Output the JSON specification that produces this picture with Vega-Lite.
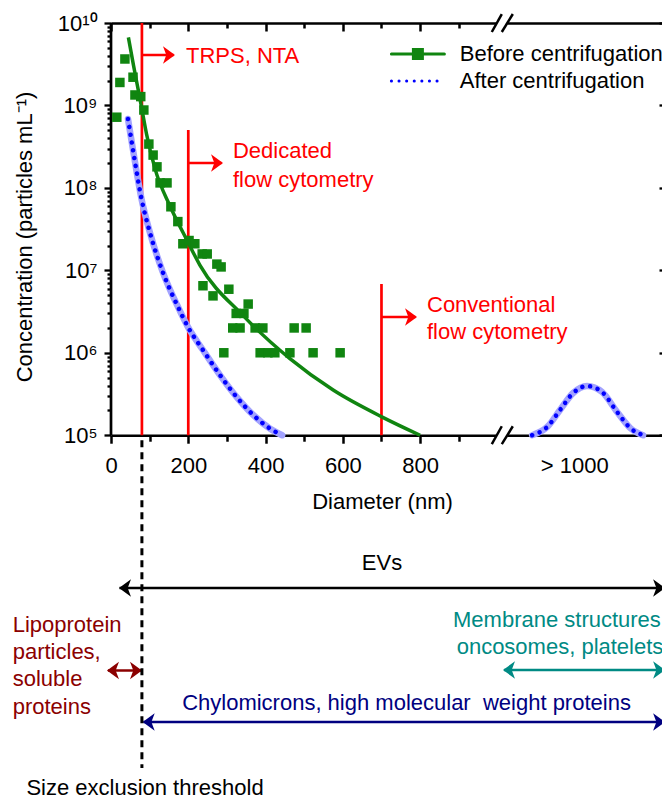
{
  "$schema": "https://vega.github.io/schema/vega-lite/v6.json",
  "width": 551,
  "height": 742,
  "autosize": {"type": "none"},
  "padding": {"left": 111, "top": 23, "right": 0, "bottom": 36},
  "background": "white",
  "config": {
    "view": {"stroke": null},
    "font": "Liberation Sans",
    "axis": {"grid": false, "domainColor": "black", "tickColor": "black", "labelColor": "black", "titleColor": "black", "labelFont": "Liberation Sans", "titleFont": "Liberation Sans"},
    "text": {"font": "Liberation Sans", "fontSize": 22}
  },
  "datasets": {
    "fit": [
      {"d": 45, "c": 6.7e9, "s": "Before centrifugation"},
      {"d": 58, "c": 3.1e9, "s": "Before centrifugation"},
      {"d": 71, "c": 1.5e9, "s": "Before centrifugation"},
      {"d": 80, "c": 9.0e8, "s": "Before centrifugation"},
      {"d": 92, "c": 4.5e8, "s": "Before centrifugation"},
      {"d": 114, "c": 1.7e8, "s": "Before centrifugation"},
      {"d": 153, "c": 6.0e7, "s": "Before centrifugation"},
      {"d": 197, "c": 2.3e7, "s": "Before centrifugation"},
      {"d": 230, "c": 1.16e7, "s": "Before centrifugation"},
      {"d": 342, "c": 2.82e6, "s": "Before centrifugation"},
      {"d": 463, "c": 8.5e5, "s": "Before centrifugation"},
      {"d": 575, "c": 3.53e5, "s": "Before centrifugation"},
      {"d": 702, "c": 1.66e5, "s": "Before centrifugation"},
      {"d": 800, "c": 1.0e5, "s": "Before centrifugation"}
    ],
    "after": [
      {"d": 44, "c": 6.85e8, "s": "After centrifugation", "seg": "m"},
      {"d": 57, "c": 2.88e8, "s": "After centrifugation", "seg": "m"},
      {"d": 78, "c": 7.74e7, "s": "After centrifugation", "seg": "m"},
      {"d": 101, "c": 2.84e7, "s": "After centrifugation", "seg": "m"},
      {"d": 135, "c": 9.27e6, "s": "After centrifugation", "seg": "m"},
      {"d": 171, "c": 3.8e6, "s": "After centrifugation", "seg": "m"},
      {"d": 199, "c": 2.06e6, "s": "After centrifugation", "seg": "m"},
      {"d": 238, "c": 1.08e6, "s": "After centrifugation", "seg": "m"},
      {"d": 282, "c": 5.37e5, "s": "After centrifugation", "seg": "m"},
      {"d": 326, "c": 2.88e5, "s": "After centrifugation", "seg": "m"},
      {"d": 368, "c": 1.76e5, "s": "After centrifugation", "seg": "m"},
      {"d": 412, "c": 1.2e5, "s": "After centrifugation", "seg": "m"},
      {"d": 443, "c": 1.0e5, "s": "After centrifugation", "seg": "m"},
      {"d": 1090, "c": 1.0e5, "s": "After centrifugation", "seg": "b"},
      {"d": 1129, "c": 1.26e5, "s": "After centrifugation", "seg": "b"},
      {"d": 1162, "c": 2.02e5, "s": "After centrifugation", "seg": "b"},
      {"d": 1196, "c": 3.25e5, "s": "After centrifugation", "seg": "b"},
      {"d": 1232, "c": 3.95e5, "s": "After centrifugation", "seg": "b"},
      {"d": 1271, "c": 3.34e5, "s": "After centrifugation", "seg": "b"},
      {"d": 1310, "c": 1.91e5, "s": "After centrifugation", "seg": "b"},
      {"d": 1344, "c": 1.22e5, "s": "After centrifugation", "seg": "b"},
      {"d": 1377, "c": 1.0e5, "s": "After centrifugation", "seg": "b"}
    ],
    "pts": [
      {"d": 15, "c": 7.2e8}, {"d": 23, "c": 1.9e9}, {"d": 36, "c": 3.66e9}, {"d": 57, "c": 2.2e9},
      {"d": 62, "c": 1.34e9}, {"d": 77, "c": 1.28e9}, {"d": 85, "c": 8.8e8}, {"d": 98, "c": 3.4e8},
      {"d": 109, "c": 2.5e8}, {"d": 119, "c": 1.8e8}, {"d": 127, "c": 1.15e8}, {"d": 145, "c": 1.15e8},
      {"d": 155, "c": 5.9e7}, {"d": 173, "c": 3.9e7}, {"d": 186, "c": 2.1e7}, {"d": 202, "c": 2.3e7},
      {"d": 217, "c": 2.1e7}, {"d": 236, "c": 1.58e7}, {"d": 249, "c": 1.58e7}, {"d": 274, "c": 1.19e7},
      {"d": 285, "c": 1.1e7}, {"d": 238, "c": 6.5e6}, {"d": 305, "c": 5.9e6}, {"d": 264, "c": 4.9e6},
      {"d": 355, "c": 3.9e6}, {"d": 324, "c": 3.0e6}, {"d": 344, "c": 3.0e6}, {"d": 315, "c": 2.0e6},
      {"d": 334, "c": 2.0e6}, {"d": 373, "c": 2.0e6}, {"d": 393, "c": 2.0e6}, {"d": 474, "c": 2.0e6},
      {"d": 505, "c": 2.0e6}, {"d": 292, "c": 1.0e6}, {"d": 386, "c": 1.0e6}, {"d": 406, "c": 1.0e6},
      {"d": 424, "c": 1.0e6}, {"d": 463, "c": 1.0e6}, {"d": 523, "c": 1.0e6}, {"d": 593, "c": 1.0e6}
    ],
    "vr": [
      {"d": 0, "lo": 1e5, "hi": 1e10, "g": "frame"},
      {"d": 80, "lo": 1e5, "hi": 1e10, "g": "method"},
      {"d": 200, "lo": 1e5, "hi": 5.04e8, "g": "method"},
      {"d": 700, "lo": 1e5, "hi": 6.83e6, "g": "method"}
    ],
    "hr": [
      {"a": 80, "b": 162, "c": 4.09e9, "g": "method"},
      {"a": 200, "b": 286, "c": 2.0e8, "g": "method"},
      {"a": 700, "b": 788, "c": 2.72e6, "g": "method"},
      {"a": 22, "b": 1430, "c": 1403, "g": "ev"},
      {"a": 1017, "b": 1430, "c": 142, "g": "mem"},
      {"a": -8, "b": 78, "c": 140, "g": "lipo"},
      {"a": 84, "b": 1430, "c": 33.2, "g": "chylo"}
    ],
    "heads": [
      {"d": 165.6, "c": 4.09e9, "dir": "right", "g": "method"},
      {"d": 289.9, "c": 2.0e8, "dir": "right", "g": "method"},
      {"d": 792, "c": 2.72e6, "dir": "right", "g": "method"},
      {"d": 20.7, "c": 1403, "dir": "left", "g": "ev"},
      {"d": 1434, "c": 1403, "dir": "right", "g": "ev"},
      {"d": 1014.5, "c": 142, "dir": "left", "g": "mem"},
      {"d": 1434, "c": 142, "dir": "right", "g": "mem"},
      {"d": -10.4, "c": 140, "dir": "left", "g": "lipo"},
      {"d": 80.2, "c": 140, "dir": "right", "g": "lipo"},
      {"d": 82, "c": 33.2, "dir": "left", "g": "chylo"},
      {"d": 1434, "c": 33.2, "dir": "right", "g": "chylo"}
    ],
    "tl": [
      {"d": 194.1, "c": 3.94e9, "t": "TRPS, NTA", "g": "method"},
      {"d": 315.7, "c": 2.8e8, "t": "Dedicated", "g": "method"},
      {"d": 315.7, "c": 1.25e8, "t": "flow cytometry", "g": "method"},
      {"d": 817.8, "c": 3.79e6, "t": "Conventional", "g": "method"},
      {"d": 817.8, "c": 1.79e6, "t": "flow cytometry", "g": "method"},
      {"d": -254.4, "c": 499, "t": "Lipoprotein", "g": "lipo"},
      {"d": -254.4, "c": 234, "t": "particles,", "g": "lipo"},
      {"d": -254.4, "c": 110, "t": "soluble", "g": "lipo"},
      {"d": -254.4, "c": 50.5, "t": "proteins", "g": "lipo"}
    ],
    "tc": [
      {"d": 701.4, "c": 2818, "t": "EVs", "g": "ev"},
      {"d": 1162, "c": 574, "t": "Membrane structures,", "g": "mem"},
      {"d": 1162, "c": 270, "t": "oncosomes, platelets", "g": "mem"},
      {"d": 764.8, "c": 56.5, "t": "Chylomicrons, high molecular\u00a0 weight proteins", "g": "chylo"},
      {"d": 88, "c": 5.26, "t": "Size exclusion threshold", "g": "thr"}
    ],
    "brk": [
      {"a": 985.5, "b": 1011.4, "lo": 7.78e9, "hi": 1.285e10},
      {"a": 1011.4, "b": 1039.9, "lo": 7.78e9, "hi": 1.285e10},
      {"a": 985.5, "b": 1011.4, "lo": 7.78e4, "hi": 1.285e5},
      {"a": 1011.4, "b": 1039.9, "lo": 7.78e4, "hi": 1.285e5}
    ],
    "gap": [
      {"a": 998, "b": 1026, "lo": 9.3e9, "hi": 1.075e10},
      {"a": 998, "b": 1026, "lo": 9.3e4, "hi": 1.075e5}
    ],
    "thresh": [
      {"d": 80, "lo": 8.7e4, "hi": 9.18}
    ]
  },
  "resolve": {"axis": {"x": "independent", "y": "independent"}},
  "layer": [
    {
      "data": {"name": "vr"},
      "mark": {"type": "rule", "strokeWidth": 2.7},
      "encoding": {
        "x": {"field": "d", "type": "quantitative", "scale": {"domain": [0, 1426], "nice": false, "zero": false}, "axis": null},
        "y": {"field": "lo", "type": "quantitative", "scale": {"type": "log", "domain": [10, 1e10], "nice": false}, "axis": null},
        "y2": {"field": "hi"},
        "stroke": {"field": "g", "type": "nominal", "legend": null,
          "scale": {"domain": ["method", "ev", "mem", "lipo", "chylo", "thr", "frame"], "range": ["#ff0000", "#000000", "#008a84", "#8b0000", "#000080", "#000000", "#000000"]}}
      }
    },
    {
      "data": {"name": "hr"},
      "mark": {"type": "rule", "strokeWidth": 2.6},
      "encoding": {
        "x": {"field": "a", "type": "quantitative", "scale": {"domain": [0, 1426], "nice": false, "zero": false}, "axis": null},
        "x2": {"field": "b"},
        "y": {"field": "c", "type": "quantitative", "scale": {"type": "log", "domain": [10, 1e10], "nice": false}, "axis": null},
        "stroke": {"field": "g", "type": "nominal", "legend": null,
          "scale": {"domain": ["method", "ev", "mem", "lipo", "chylo", "thr", "frame"], "range": ["#ff0000", "#000000", "#008a84", "#8b0000", "#000080", "#000000", "#000000"]}}
      }
    },
    {
      "data": {"name": "heads"},
      "mark": {"type": "point", "filled": true, "size": 144, "opacity": 1, "strokeWidth": 0},
      "encoding": {
        "x": {"field": "d", "type": "quantitative", "scale": {"domain": [0, 1426], "nice": false, "zero": false}, "axis": null},
        "y": {"field": "c", "type": "quantitative", "scale": {"type": "log", "domain": [10, 1e10], "nice": false}, "axis": null},
        "shape": {"field": "dir", "type": "nominal", "legend": null,
          "scale": {"domain": ["right", "left"], "range": ["M0,0L-2,-1.45L-1.45,0L-2,1.45Z", "M0,0L2,-1.45L1.45,0L2,1.45Z"]}},
        "fill": {"field": "g", "type": "nominal", "legend": null,
          "scale": {"domain": ["method", "ev", "mem", "lipo", "chylo", "thr", "frame"], "range": ["#ff0000", "#000000", "#008a84", "#8b0000", "#000080", "#000000", "#000000"]}}
      }
    },
    {
      "data": {"name": "after"},
      "mark": {"type": "line", "interpolate": "monotone", "strokeWidth": 6.5, "color": "#a3a3ff", "strokeCap": "round"},
      "encoding": {
        "x": {"field": "d", "type": "quantitative", "scale": {"domain": [0, 1426], "nice": false, "zero": false},
          "axis": {"orient": "top", "values": [0, 100, 200, 300, 400, 500, 600, 700, 800, 900], "labels": false, "title": null,
            "tickSize": {"condition": {"test": "datum.value % 200 == 0", "value": -8}, "value": -5},
            "tickWidth": 2.5, "domainWidth": 2.5, "grid": false}},
        "y": {"field": "c", "type": "quantitative", "scale": {"type": "log", "domain": [10, 1e10], "nice": false},
          "axis": {"orient": "right", "values": [1e5, 1e6, 1e7, 1e8, 1e9, 1e10], "labels": false, "title": null, "domain": false,
            "tickSize": -3, "tickWidth": 2.3, "grid": false}},
        "detail": {"field": "seg", "type": "nominal"}
      }
    },
    {
      "data": {"name": "after"},
      "mark": {"type": "line", "interpolate": "monotone", "strokeWidth": 4.5, "strokeCap": "round", "strokeDash": [0.1, 7.8]},
      "encoding": {
        "x": {"field": "d", "type": "quantitative", "scale": {"domain": [0, 1426], "nice": false, "zero": false}, "axis": null},
        "y": {"field": "c", "type": "quantitative", "scale": {"type": "log", "domain": [10, 1e10], "nice": false}, "axis": null},
        "detail": {"field": "seg", "type": "nominal"},
        "color": {"field": "s", "type": "nominal",
          "scale": {"domain": ["Before centrifugation", "After centrifugation"], "range": ["#108510", "#0000ff"]},
          "legend": {"orient": "none", "legendX": 295.9, "legendY": 20, "title": null, "direction": "vertical", "padding": 0, "offset": 0,
            "labelFont": "Liberation Sans", "labelFontSize": 22, "labelColor": "black", "labelOffset": 30.85, "labelLimit": 400,
            "symbolSize": 175.6, "symbolStrokeWidth": 3, "rowPadding": 5, "symbolType": "M-4,0H4",
            "encode": {"symbols": {"update": {
              "shape": {"signal": "datum.value == 'Before centrifugation' ? 'M-4,0H4M-0.68,-0.68H0.68V0.68H-0.68Z' : 'M-4,0H4'"},
              "fill": {"signal": "datum.value == 'Before centrifugation' ? '#108510' : 'transparent'"},
              "strokeDash": {"signal": "datum.value == 'Before centrifugation' ? [1, 0] : [0.1, 7.5]"},
              "strokeCap": {"value": "round"}
            }}}}
        }
      }
    },
    {
      "data": {"name": "fit"},
      "mark": {"type": "line", "interpolate": "monotone", "strokeWidth": 3.5},
      "encoding": {
        "x": {"field": "d", "type": "quantitative", "scale": {"domain": [0, 1426], "nice": false, "zero": false}, "axis": null},
        "y": {"field": "c", "type": "quantitative", "scale": {"type": "log", "domain": [10, 1e10], "nice": false}, "axis": null},
        "color": {"field": "s", "type": "nominal",
          "scale": {"domain": ["Before centrifugation", "After centrifugation"], "range": ["#108510", "#0000ff"]},
          "legend": {"orient": "none", "legendX": 295.9, "legendY": 20, "title": null, "direction": "vertical", "padding": 0, "offset": 0,
            "labelFont": "Liberation Sans", "labelFontSize": 22, "labelColor": "black", "labelOffset": 30.85, "labelLimit": 400,
            "symbolSize": 175.6, "symbolStrokeWidth": 3, "rowPadding": 5, "symbolType": "M-4,0H4",
            "encode": {"symbols": {"update": {
              "shape": {"signal": "datum.value == 'Before centrifugation' ? 'M-4,0H4M-0.68,-0.68H0.68V0.68H-0.68Z' : 'M-4,0H4'"},
              "fill": {"signal": "datum.value == 'Before centrifugation' ? '#108510' : 'transparent'"},
              "strokeDash": {"signal": "datum.value == 'Before centrifugation' ? [1, 0] : [0.1, 7.5]"},
              "strokeCap": {"value": "round"}
            }}}}
        }
      }
    },
    {
      "data": {"name": "pts"},
      "mark": {"type": "point", "shape": "square", "filled": true, "size": 90, "color": "#108510", "opacity": 1},
      "encoding": {
        "x": {"field": "d", "type": "quantitative", "scale": {"domain": [0, 1426], "nice": false, "zero": false},
          "axis": {"orient": "bottom", "offset": -329.78, "values": [0, 100, 200, 300, 400, 500, 600, 700, 800, 900, 1199],
            "labelExpr": "datum.value > 1000 ? '> 1000' : (datum.value % 200 == 0 ? datum.label : '')",
            "tickSize": {"condition": {"test": "datum.value % 200 == 0 || datum.value > 1000", "value": 8}, "value": 6},
            "tickOpacity": {"condition": {"test": "datum.value > 1000", "value": 0}, "value": 1},
            "tickWidth": 2.5, "domainWidth": 2.5,
            "labelFontSize": 22, "labelPadding": 12, "labelFlush": false, "labelOverlap": false, "labelBound": false,
            "title": "Diameter (nm)", "titleFontSize": 22, "titleFontWeight": "normal",
            "titleX": 271, "titleY": 66.6, "titleAlign": "center", "titleBaseline": "middle", "grid": false}},
        "y": {"field": "c", "type": "quantitative", "scale": {"type": "log", "domain": [10, 1e10], "nice": false},
          "axis": {"orient": "left", "domain": false,
            "values": [1e5, 2e5, 3e5, 4e5, 5e5, 6e5, 7e5, 8e5, 9e5, 1e6, 2e6, 3e6, 4e6, 5e6, 6e6, 7e6, 8e6, 9e6, 1e7, 2e7, 3e7, 4e7, 5e7, 6e7, 7e7, 8e7, 9e7, 1e8, 2e8, 3e8, 4e8, 5e8, 6e8, 7e8, 8e8, 9e8, 1e9, 2e9, 3e9, 4e9, 5e9, 6e9, 7e9, 8e9, 9e9, 1e10],
            "labelExpr": "datum.value == 1e5 ? '10⁵' : datum.value == 1e6 ? '10⁶' : datum.value == 1e7 ? '10⁷' : datum.value == 1e8 ? '10⁸' : datum.value == 1e9 ? '10⁹' : datum.value == 1e10 ? '10¹⁰' : ''",
            "tickSize": {"condition": {"test": "indexof([1e5, 1e6, 1e7, 1e8, 1e9, 1e10], datum.value) >= 0", "value": 7}, "value": 4},
            "tickWidth": 2.3, "labelFontSize": 22, "labelPadding": 7, "labelOverlap": false, "labelBound": false, "labelFlush": false,
            "title": "Concentration (particles mL⁻¹)", "titleFontSize": 22, "titleFontWeight": "normal",
            "titleAngle": 270, "titleX": -86.4, "titleY": 213.5, "titleAlign": "center", "titleBaseline": "middle", "grid": false}}
      }
    },
    {
      "data": {"name": "gap"},
      "mark": {"type": "rect", "color": "white", "opacity": 1},
      "encoding": {
        "x": {"field": "a", "type": "quantitative", "scale": {"domain": [0, 1426], "nice": false, "zero": false}, "axis": null},
        "x2": {"field": "b"},
        "y": {"field": "lo", "type": "quantitative", "scale": {"type": "log", "domain": [10, 1e10], "nice": false}, "axis": null},
        "y2": {"field": "hi"}
      }
    },
    {
      "data": {"name": "brk"},
      "mark": {"type": "rule", "strokeWidth": 2.5, "color": "black"},
      "encoding": {
        "x": {"field": "a", "type": "quantitative", "scale": {"domain": [0, 1426], "nice": false, "zero": false}, "axis": null},
        "x2": {"field": "b"},
        "y": {"field": "lo", "type": "quantitative", "scale": {"type": "log", "domain": [10, 1e10], "nice": false}, "axis": null},
        "y2": {"field": "hi"}
      }
    },
    {
      "data": {"name": "thresh"},
      "mark": {"type": "rule", "strokeWidth": 3, "color": "black", "strokeDash": [7, 5]},
      "encoding": {
        "x": {"field": "d", "type": "quantitative", "scale": {"domain": [0, 1426], "nice": false, "zero": false}, "axis": null},
        "y": {"field": "lo", "type": "quantitative", "scale": {"type": "log", "domain": [10, 1e10], "nice": false}, "axis": null},
        "y2": {"field": "hi"}
      }
    },
    {
      "data": {"name": "tl"},
      "mark": {"type": "text", "align": "left", "baseline": "middle", "fontSize": 22, "font": "Liberation Sans"},
      "encoding": {
        "x": {"field": "d", "type": "quantitative", "scale": {"domain": [0, 1426], "nice": false, "zero": false}, "axis": null},
        "y": {"field": "c", "type": "quantitative", "scale": {"type": "log", "domain": [10, 1e10], "nice": false}, "axis": null},
        "text": {"field": "t", "type": "nominal"},
        "fill": {"field": "g", "type": "nominal", "legend": null,
          "scale": {"domain": ["method", "ev", "mem", "lipo", "chylo", "thr", "frame"], "range": ["#ff0000", "#000000", "#008a84", "#8b0000", "#000080", "#000000", "#000000"]}}
      }
    },
    {
      "data": {"name": "tc"},
      "mark": {"type": "text", "align": "center", "baseline": "middle", "fontSize": 22, "font": "Liberation Sans"},
      "encoding": {
        "x": {"field": "d", "type": "quantitative", "scale": {"domain": [0, 1426], "nice": false, "zero": false}, "axis": null},
        "y": {"field": "c", "type": "quantitative", "scale": {"type": "log", "domain": [10, 1e10], "nice": false}, "axis": null},
        "text": {"field": "t", "type": "nominal"},
        "fill": {"field": "g", "type": "nominal", "legend": null,
          "scale": {"domain": ["method", "ev", "mem", "lipo", "chylo", "thr", "frame"], "range": ["#ff0000", "#000000", "#008a84", "#8b0000", "#000080", "#000000", "#000000"]}}
      }
    }
  ]
}
